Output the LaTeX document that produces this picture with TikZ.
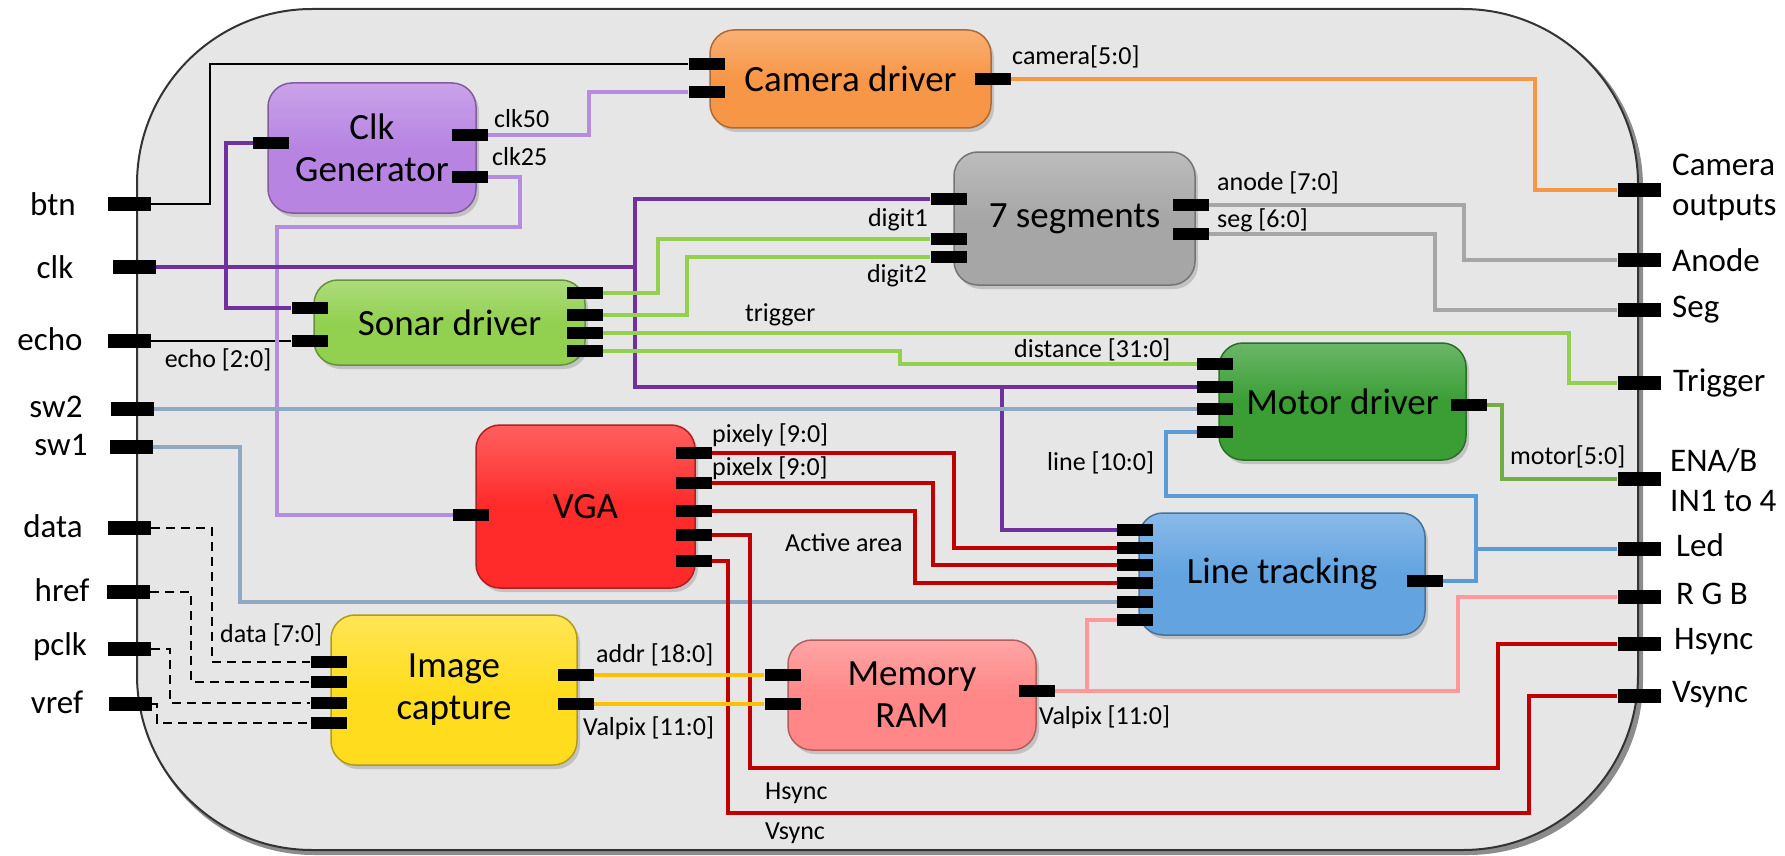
\documentclass[tikz,border=0pt]{standalone}
\usepackage{fontspec}
\setmainfont{Carlito}
\usetikzlibrary{shadows}
\pgfdeclarelayer{back}
\pgfdeclarelayer{wires}
\pgfsetlayers{back,wires,main}
\definecolor{bgin}{HTML}{E6E6E6}
\definecolor{orangeC}{HTML}{F79646}
\definecolor{purpleC}{HTML}{B784E2}
\definecolor{lpurple}{HTML}{B48CE0}
\definecolor{dpurple}{HTML}{7030A0}
\definecolor{sonarC}{HTML}{92D050}
\definecolor{grayC}{HTML}{A6A6A6}
\definecolor{motorC}{HTML}{3A9E35}
\definecolor{motorL}{HTML}{70AD47}
\definecolor{swC}{HTML}{8FA9C4}
\definecolor{vgaC}{HTML}{FF2A2A}
\definecolor{redL}{HTML}{C00000}
\definecolor{blueC}{HTML}{62A3E0}
\definecolor{blueL}{HTML}{5B9BD5}
\definecolor{pinkC}{HTML}{FF8787}
\definecolor{pinkL}{HTML}{FF9999}
\definecolor{yellowC}{HTML}{FFDD1E}
\definecolor{yellowL}{HTML}{FFC000}
\tikzset{
  blk/.style={draw=#1!70!black, line width=1.5pt, top color=#1!75!white, bottom color=#1,
    middle color=#1, rounded corners=24pt, align=center,
    font=\fontsize{37}{44}\selectfont, inner sep=0pt,
    drop shadow={opacity=0.35, shadow xshift=3pt, shadow yshift=-4pt}},
  port/.style={fill=black, inner sep=0pt, minimum width=36pt, minimum height=12pt},
  oport/.style={fill=black, inner sep=0pt, minimum width=43pt, minimum height=14pt},
  lbl/.style={font=\fontsize{26}{30}\selectfont, inner sep=0pt},
  big/.style={font=\fontsize{33}{40}\selectfont, inner sep=0pt, align=left},
  wire/.style={line width=3.2pt},
  bwire/.style={line width=2.4pt, black},
  dwire/.style={line width=2.6pt, black, dash pattern=on 9pt off 6pt},
}
\begin{document}
\begin{tikzpicture}[x=1pt,y=-1pt]
\useasboundingbox (0,0) rectangle (1785,856);
\begin{pgfonlayer}{back}
\fill[black!45, rounded corners=175pt] (139,12) rectangle (1643,855);
\draw[line width=2pt, draw=black!80, fill=bgin, rounded corners=175pt] (137,9) rectangle (1638,850);
\end{pgfonlayer}

% blocks
\node[blk=orangeC, minimum width=281pt, minimum height=98pt] (cam) at (850.5,79) {Camera driver};
\node[blk=purpleC, minimum width=208pt, minimum height=130pt] (gen) at (372,148) {Clk\\[-2pt]Generator};
\node[blk=grayC, minimum width=241pt, minimum height=133pt] (seven) at (1074.5,218.5) {7 segments};
\node[blk=sonarC, minimum width=271pt, minimum height=85pt] (sonar) at (449.5,322.5) {Sonar driver};
\node[blk=motorC, minimum width=247pt, minimum height=117pt] (motor) at (1342.5,401.5) {Motor driver};
\node[blk=vgaC, minimum width=219pt, minimum height=163pt] (vga) at (585.5,506.5) {VGA};
\node[blk=blueC, minimum width=286pt, minimum height=122pt] (lt) at (1282,574) {Line tracking};
\node[blk=yellowC, minimum width=246pt, minimum height=150pt] (ic) at (454,690) {Image\\[-2pt]capture};
\node[blk=pinkC, minimum width=248pt, minimum height=110pt] (ram) at (912,695) {Memory\\[-2pt]RAM};

% block ports
\node[port] (cin1) at (706.5,64) {};
\node[port] (cin2) at (706.5,92) {};
\node[port] (cout) at (992.5,79) {};
\node[port] (gin) at (271,143) {};
\node[port] (g50) at (470,135) {};
\node[port] (g25) at (470,177) {};
\node[port] (sin1) at (948.5,199) {};
\node[port] (sin2) at (948.5,239) {};
\node[port] (sin3) at (948.5,257) {};
\node[port] (sout1) at (1190.5,205) {};
\node[port] (sout2) at (1190.5,234) {};
\node[port] (nin1) at (309.5,308) {};
\node[port] (nin2) at (309.5,341) {};
\node[port] (nout1) at (585,293) {};
\node[port] (nout2) at (585,315) {};
\node[port] (nout3) at (585,333) {};
\node[port] (nout4) at (585,351) {};
\node[port] (min1) at (1215,364) {};
\node[port] (min2) at (1215,387) {};
\node[port] (min3) at (1215,409) {};
\node[port] (min4) at (1215,432) {};
\node[port] (mout) at (1469,405) {};
\node[port] (vin) at (471,515) {};
\node[port] (vo1) at (694,453) {};
\node[port] (vo2) at (694,483) {};
\node[port] (vo3) at (694,511) {};
\node[port] (vo4) at (694,535) {};
\node[port] (vo5) at (694,561) {};
\node[port] (lin1) at (1135,530) {};
\node[port] (lin2) at (1135,548) {};
\node[port] (lin3) at (1135,565) {};
\node[port] (lin4) at (1135,583) {};
\node[port] (lin5) at (1135,602) {};
\node[port] (lin6) at (1135,620) {};
\node[port] (lout) at (1424.5,581) {};
\node[port] (iin1) at (328.5,662) {};
\node[port] (iin2) at (328.5,682) {};
\node[port] (iin3) at (328.5,703) {};
\node[port] (iin4) at (328.5,723) {};
\node[port] (iout1) at (576,675) {};
\node[port] (iout2) at (576,704) {};
\node[port] (rin1) at (782.5,675) {};
\node[port] (rin2) at (782.5,704) {};
\node[port] (rout) at (1037,691) {};

% outer ports
\node[oport] (pbtn) at (129.5,204) {};
\node[oport] (pclk) at (134.5,267) {};
\node[oport] (pecho) at (129,341) {};
\node[oport] (psw2) at (132,409) {};
\node[oport] (psw1) at (131,447) {};
\node[oport] (pdata) at (129.5,528) {};
\node[oport] (phref) at (128.5,592) {};
\node[oport] (ppclk) at (129.5,649) {};
\node[oport] (pvref) at (130.5,704) {};
\node[oport] (pcam) at (1639,190) {};
\node[oport] (panode) at (1639,260) {};
\node[oport] (pseg) at (1639,310) {};
\node[oport] (ptrig) at (1639,383) {};
\node[oport] (pena) at (1639,479) {};
\node[oport] (pled) at (1639,549) {};
\node[oport] (prgb) at (1639,597) {};
\node[oport] (phs) at (1639,644) {};
\node[oport] (pvs) at (1639,696) {};

% outer labels
\node[big] (tbtn) at (53,204) {btn};
\node[big] (tclk) at (55,267) {clk};
\node[big] (techo) at (50,339) {echo};
\node[big] (tsw2) at (56,407) {sw2};
\node[big] (tsw1) at (61,445) {sw1};
\node[big] (tdata) at (53,526) {data};
\node[big] (threef) at (62,590) {href};
\node[big] (tpclk) at (60,647) {pclk};
\node[big] (tvref) at (57,702) {vref};
\node[big, anchor=west] (tcam) at (1672,187) {Camera\\outputs};
\node[big, anchor=west] (tanode) at (1672,260) {Anode};
\node[big, anchor=west] (tseg) at (1672,310) {Seg};
\node[big, anchor=west] (ttrig) at (1673,383) {Trigger};
\node[big, anchor=west] (tena) at (1670,480) {ENA/B\\IN1 to 4};
\node[big, anchor=west] (tled) at (1676,545) {Led};
\node[big, anchor=west] (trgb) at (1676,594) {R G B};
\node[big, anchor=west] (ths) at (1674,642) {Hsync};
\node[big, anchor=west] (tvs) at (1672,695) {Vsync};

% signal labels
\node[lbl, anchor=west] (lc50) at (494,119) {clk50};
\node[lbl, anchor=west] (lc25) at (492,157) {clk25};
\node[lbl, anchor=west] (lcam) at (1012,57) {camera[5:0]};
\node[lbl, anchor=east] (ld1) at (928,220) {digit1};
\node[lbl, anchor=east] (ld2) at (927,276) {digit2};
\node[lbl, anchor=west] (lan) at (1217,183) {anode [7:0]};
\node[lbl, anchor=west] (lsg) at (1217,220) {seg [6:0]};
\node[lbl] (lecho) at (218,360) {echo [2:0]};
\node[lbl, anchor=west] (ltrig) at (745,315) {trigger};
\node[lbl, anchor=west] (ldist) at (1014,350) {distance [31:0]};
\node[lbl, anchor=west] (lpy) at (712,435) {pixely [9:0]};
\node[lbl, anchor=west] (lpx) at (712,468) {pixelx [9:0]};
\node[lbl, anchor=west] (lact) at (785,543) {Active area};
\node[lbl, anchor=west] (lline) at (1047,463) {line [10:0]};
\node[lbl, anchor=west] (lmot) at (1510,457) {motor[5:0]};
\node[lbl, anchor=west] (laddr) at (596,655) {addr [18:0]};
\node[lbl, anchor=west] (lval1) at (583,728) {Valpix [11:0]};
\node[lbl, anchor=west] (lval2) at (1039,717) {Valpix [11:0]};
\node[lbl, anchor=west] (ldata) at (220,635) {data [7:0]};
\node[lbl, anchor=west] (lhs) at (765,793) {Hsync};
\node[lbl, anchor=west] (lvs) at (765,833) {Vsync};

\begin{pgfonlayer}{wires}
% black
\draw[bwire] (pbtn.east) -| (210,64) -- (cin1.west);
\draw[bwire] (pecho.east) -- (nin2.west);
% light purple clocks
\draw[wire, lpurple] (g50.east) -| (589,92) -- (cin2.west);
\draw[wire, lpurple] (g25.east) -| (520,227) -| (277,515) -- (vin.west);
% dark purple clk
\draw[wire, dpurple] (pclk.east) -- (635,267);
\draw[wire, dpurple] (sin1.west) -| (635,387) -- (min2.west);
\draw[wire, dpurple] (1002,387) |- (lin1.west);
\draw[wire, dpurple] (gin.west) -| (226,308) -- (nin1.west);
% sonar outputs
\draw[wire, sonarC] (nout1.east) -| (658,239) -- (sin2.west);
\draw[wire, sonarC] (nout2.east) -| (687,257) -- (sin3.west);
\draw[wire, sonarC] (nout3.east) -| (1569,383) -- (ptrig.west);
\draw[wire, sonarC] (nout4.east) -| (900,364) -- (min1.west);
% camera
\draw[wire, orangeC] (cout.east) -| (1535,190) -- (pcam.west);
% 7 segments
\draw[wire, grayC] (sout1.east) -| (1464,260) -- (panode.west);
\draw[wire, grayC] (sout2.east) -| (1435,310) -- (pseg.west);
% switches
\draw[wire, swC] (psw2.east) -- (min3.west);
\draw[wire, swC] (psw1.east) -| (240,602) -- (lin5.west);
% motor
\draw[wire, motorL] (mout.east) -| (1502,479) -- (pena.west);
% line tracking
\draw[wire, blueL] (lout.east) -| (1476,496) -| (1166,432) -- (min4.west);
\draw[wire, blueL] (1476,549) -- (pled.west);
% VGA
\draw[wire, redL] (vo1.east) -| (954,548) -- (lin2.west);
\draw[wire, redL] (vo2.east) -| (933,565) -- (lin3.west);
\draw[wire, redL] (vo3.east) -| (915,583) -- (lin4.west);
\draw[wire, redL] (vo4.east) -| (750,768) -| (1498,644) -- (phs.west);
\draw[wire, redL] (vo5.east) -| (728,813) -| (1529,696) -- (pvs.west);
% image capture to RAM
\draw[wire, yellowL] (iout1.east) -- (rin1.west);
\draw[wire, yellowL] (iout2.east) -- (rin2.west);
% RAM out
\draw[wire, pinkL] (rout.east) -| (1458,597) -- (prgb.west);
\draw[wire, pinkL] (1087,691) |- (lin6.west);
% camera inputs dashed
\draw[dwire] (pdata.east) -| (212,662) -- (iin1.west);
\draw[dwire] (phref.east) -| (191,682) -- (iin2.west);
\draw[dwire] (ppclk.east) -| (170,703) -- (iin3.west);
\draw[dwire] (pvref.east) -| (157,723) -- (iin4.west);
\end{pgfonlayer}
\end{tikzpicture}
\end{document}
